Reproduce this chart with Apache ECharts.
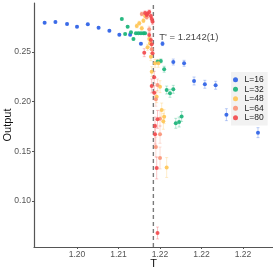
<!DOCTYPE html>
<html><head><meta charset="utf-8">
<script src="https://cdn.jsdelivr.net/npm/echarts@6/dist/echarts.min.js"></script>
<style>html,body{margin:0;padding:0;background:#fff}#c{width:273px;height:273px}</style>
</head><body><div id="c"></div>
<script>
const seriesNames = ['L=16','L=32','L=48','L=64','L=80'];
const seriesColors = ['#2b5fe6','#17b277','#ffc452','#fa9176','#f2474a'];

const T16 = [1.2011,1.2024,1.2038,1.2050,1.2063,1.2076,1.2089,1.2101,1.2114,1.2127,1.2153,1.2166,1.2179,1.2191,1.2204,1.2217,1.2230,1.2268];
const O16 = [0.2795,0.2802,0.2782,0.2755,0.2779,0.2745,0.2714,0.2674,0.2674,0.2584,0.2584,0.2399,0.2386,0.2208,0.2175,0.2165,0.1869,0.1688];
const E16 = [0.001,0.001,0.001,0.001,0.001,0.001,0.001,0.001,0.001,0.001,0.002,0.003,0.003,0.004,0.004,0.004,0.006,0.005];

const T32 = [1.2104,1.2108,1.2111,1.2115,1.2118,1.2121,1.2124,1.2127,1.2130,1.2132,1.2147,1.2151,1.2155,1.2158,1.2162,1.2166,1.2169,1.2173,1.2176];
const O32 = [0.2832,0.2681,0.2755,0.2698,0.2631,0.2688,0.2688,0.2688,0.2688,0.2688,0.2402,0.2410,0.2326,0.2117,0.2084,0.2124,0.1782,0.1795,0.1851];
const E32 = [0.001,0.001,0.001,0.001,0.001,0.001,0.001,0.001,0.001,0.001,0.002,0.002,0.003,0.004,0.004,0.004,0.005,0.005,0.005];

const T48 = [1.2122,1.2125,1.2128,1.2130,1.2132,1.2135,1.2137,1.2138,1.2139,1.2140,1.2144,1.2146,1.2148,1.2150,1.2152,1.2154,1.2155,1.2158];
const O48 = [0.2762,0.2789,0.2739,0.2815,0.2862,0.2547,0.2631,0.2588,0.2453,0.2302,0.2386,0.2050,0.2386,0.2151,0.1916,0.1802,0.1849,0.1337];
const E48 = [0.002,0.002,0.002,0.002,0.002,0.003,0.003,0.003,0.004,0.005,0.004,0.006,0.004,0.006,0.007,0.008,0.007,0.010];

const T64 = [1.2128,1.2134,1.2137,1.2140,1.2145,1.2147,1.2150,1.2150,1.2145,1.2150];
const O64 = [0.2883,0.2849,0.2729,0.2527,0.2024,0.2168,0.1829,0.1671,0.1544,0.1433];
const E64 = [0.002,0.002,0.003,0.004,0.007,0.006,0.008,0.009,0.010,0.011];

const T80 = [1.2132,1.2134,1.2135,1.2137,1.2139,1.2140,1.2141,1.2131,1.2137,1.2139,1.2140,1.2141,1.2143,1.2140,1.2143,1.2147,1.2144,1.2144,1.2146,1.2147];
const O80 = [0.2893,0.2872,0.2885,0.2903,0.2862,0.2832,0.2805,0.2493,0.2671,0.2621,0.2578,0.2487,0.2245,0.2158,0.2090,0.1822,0.1755,0.1672,0.1332,0.0678];
const E80 = [0.002,0.002,0.002,0.002,0.002,0.002,0.003,0.004,0.003,0.003,0.004,0.004,0.006,0.007,0.007,0.009,0.009,0.010,0.011,0.006];

const xTickValues = [1.205,1.210,1.215,1.220,1.225];
const xTickLabels = ['1.20','1.21','1.22','1.22','1.22'];
const yTickValues = [0.10,0.15,0.20,0.25];
const yTickLabels = ['0.10','0.15','0.20','0.25'];
const xRange = [1.19982,1.22861];
const yRange = [0.0537,0.2993];
const Tcrit = 1.2142;
const annotText = "T' = 1.2142(1)";
const annotPos = [1.2149,0.2651];

const allT = [T16,T32,T48,T64,T80];
const allO = [O16,O32,O48,O64,O80];
const allE = [E16,E32,E48,E64,E80];

const chart = echarts.init(document.getElementById('c'), null, {renderer:'canvas'});
const series = [];
series.push({
  name:'Tcrit', type:'line', z:2, silent:true, symbol:'none',
  data:[[Tcrit,yRange[0]],[Tcrit,yRange[1]]],
  lineStyle:{type:[4,3], color:'#7a7a7a', width:1.4}
});
seriesNames.forEach((name,i)=>{
  const color = seriesColors[i];
  series.push({
    name: 'err'+name, type:'custom', silent:true, z:1,
    data: allT[i].map((t,k)=>[t, allO[i][k], allE[i][k]]),
    encode:{x:0,y:1},
    renderItem:(params, api)=>{
      const x=api.value(0), y=api.value(1), e=api.value(2);
      const p1=api.coord([x,y-e]), p2=api.coord([x,y+e]);
      return {type:'group', children:[
        {type:'line', shape:{x1:p1[0],y1:p1[1],x2:p2[0],y2:p2[1]}, style:{stroke:color,lineWidth:1,opacity:0.3}},
        {type:'line', shape:{x1:p1[0]-1.5,y1:p1[1],x2:p1[0]+1.5,y2:p1[1]}, style:{stroke:color,lineWidth:1,opacity:0.3}},
        {type:'line', shape:{x1:p2[0]-1.5,y1:p2[1],x2:p2[0]+1.5,y2:p2[1]}, style:{stroke:color,lineWidth:1,opacity:0.3}}
      ]};
    }
  });
});
seriesNames.forEach((name,i)=>{
  series.push({
    name, type:'scatter', symbol:'circle', symbolSize:4, z:3,
    itemStyle:{color:seriesColors[i], opacity:0.9},
    data: allT[i].map((t,k)=>[t, allO[i][k]])
  });
});
series.push({
  name:'annot', type:'scatter', symbolSize:0, z:5, silent:true,
  data:[annotPos],
  label:{show:true, position:'right', distance:0, formatter:annotText,
    fontFamily:'Liberation Sans', fontSize:9.5, color:'#111'}
});

chart.setOption({
  animation:false,
  backgroundColor:'#ffffff',
  textStyle:{fontFamily:'Liberation Sans'},
  grid:{left:34, right:0, top:3, bottom:26, containLabel:false, outerBoundsMode:'none'},
  xAxis:{
    type:'value', min:xRange[0], max:xRange[1],
    name:'T', nameLocation:'middle', nameGap:11, nameMoveOverlap:false,
    nameTextStyle:{fontSize:11, color:'#111', fontFamily:'Liberation Sans'},
    axisLine:{show:true, lineStyle:{color:'#555', width:1.2}},
    axisTick:{show:true, length:2, customValues:xTickValues, lineStyle:{color:'#555'}},
    axisLabel:{customValues:xTickValues, margin:3, fontSize:8.6, color:'#555',
      formatter:(v)=>{const k=xTickValues.findIndex(t=>Math.abs(t-v)<1e-9);return k>=0?xTickLabels[k]:'';}},
    splitLine:{show:false}
  },
  yAxis:{
    type:'value', min:yRange[0], max:yRange[1],
    name:'Output', nameLocation:'middle', nameGap:21, nameRotate:90, nameMoveOverlap:false,
    nameTextStyle:{fontSize:11, color:'#111', fontFamily:'Liberation Sans'},
    axisLine:{show:true, lineStyle:{color:'#555', width:1.2}},
    axisTick:{show:true, length:2, customValues:yTickValues, lineStyle:{color:'#555'}},
    axisLabel:{customValues:yTickValues, margin:3, fontSize:8.6, color:'#555',
      formatter:(v)=>{const k=yTickValues.findIndex(t=>Math.abs(t-v)<1e-9);return k>=0?yTickLabels[k]:'';}},
    splitLine:{show:false}
  },
  legend:{
    data:seriesNames, orient:'vertical', left:231, top:72,
    backgroundColor:'#f2f2f2', padding:[3,4,3,2], itemGap:0,
    itemWidth:8, itemHeight:5, icon:'circle',
    textStyle:{fontSize:8.5, color:'#222', lineHeight:9.5, fontFamily:'Liberation Sans'}
  },
  series
});
</script></body></html>
